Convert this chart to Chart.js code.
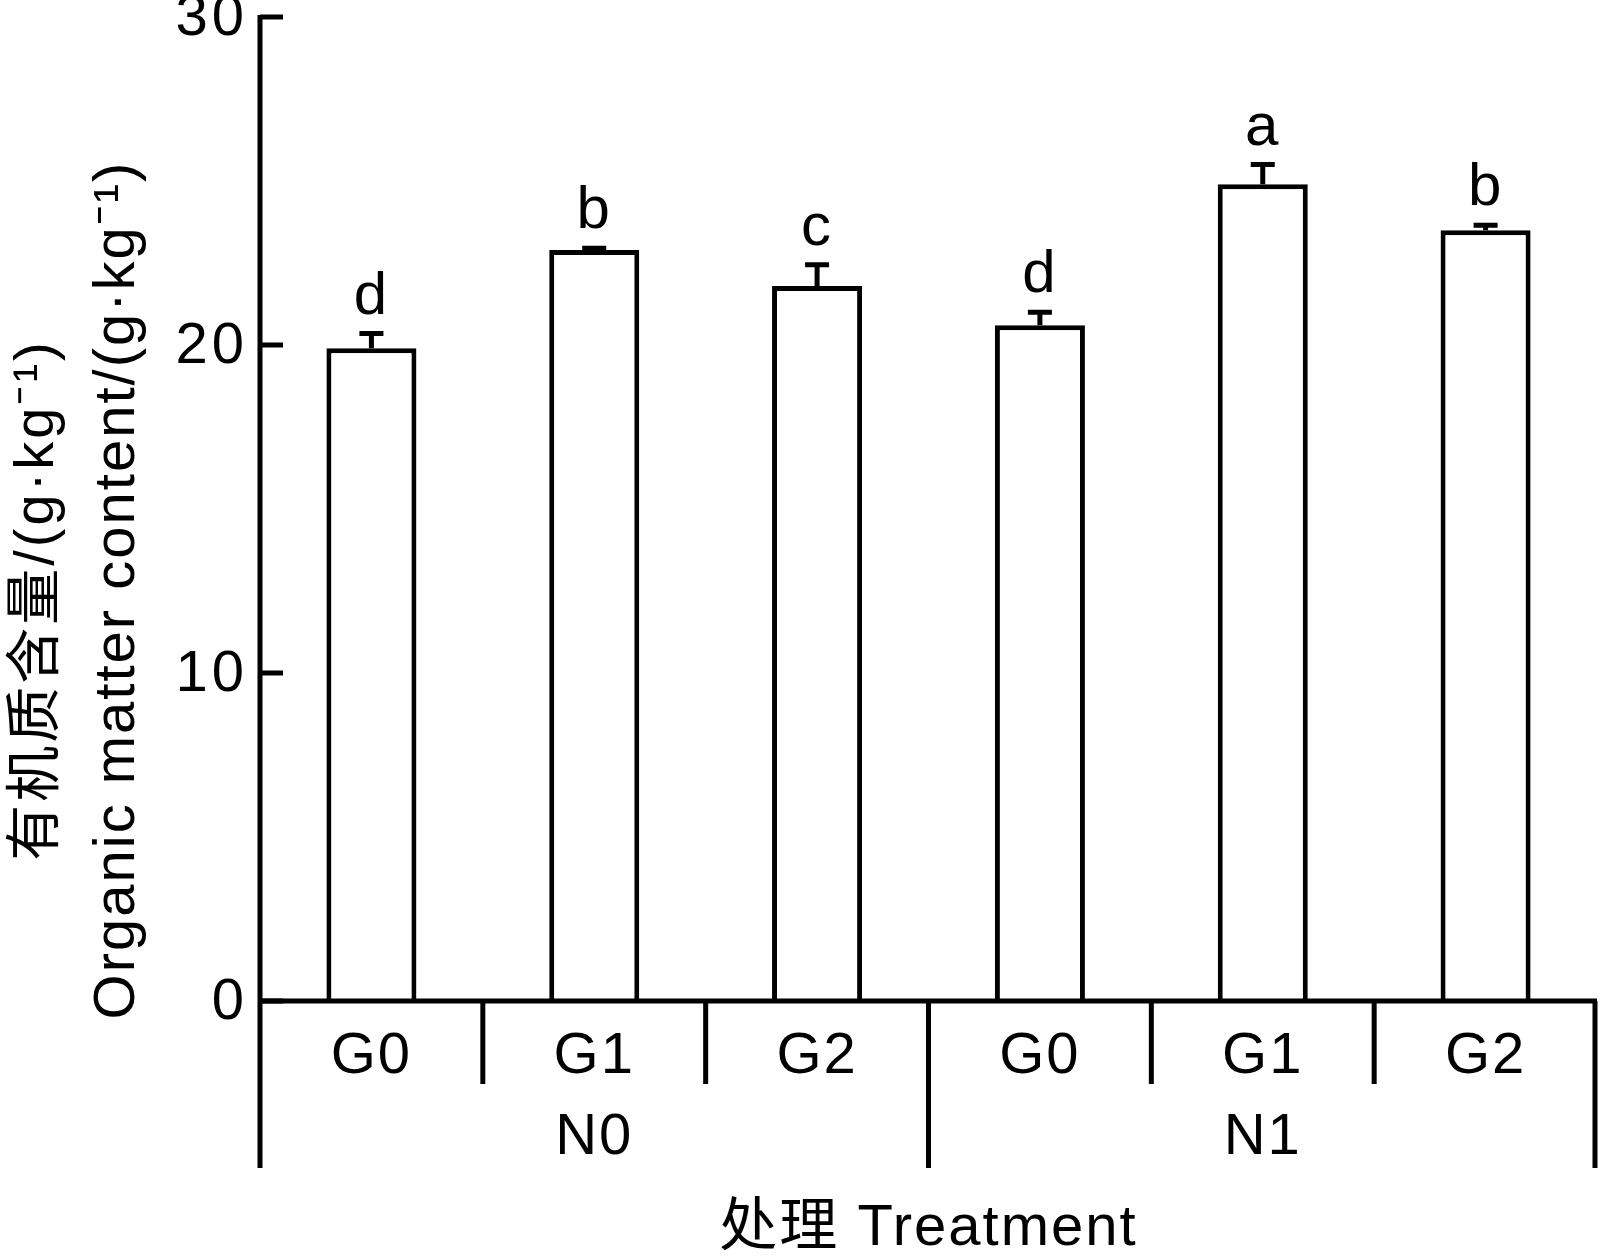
<!DOCTYPE html>
<html>
<head>
<meta charset="utf-8">
<script src="https://cdn.jsdelivr.net/npm/chart.js@4"></script>
<style>
  html, body { margin: 0; padding: 0; background: #fff; }
  #wrap { width: 1600px; height: 1256px; }
</style>
</head>
<body>
<div id="wrap"><canvas id="chart" width="1600" height="1256"></canvas></div>
<script>
// data
const categories = ['G0', 'G1', 'G2', 'G0', 'G1', 'G2'];
const groups = ['N0', 'N1'];
const means = [19.9, 22.9, 21.8, 20.6, 24.9, 23.5];
const errors = [0.45, 0.05, 0.65, 0.4, 0.6, 0.15];
const letters = ['d', 'b', 'c', 'd', 'a', 'b'];
const yTicks = [0, 10, 20, 30];

const FONT = '"Liberation Sans", Arial, sans-serif';
const MIXED = '"Liberation Sans", "Noto Sans CJK SC", sans-serif';

// axes, error bars, letters and the two-level x labels
const decorations = {
  id: 'decorations',
  afterDatasetsDraw(chart) {
    const ctx = chart.ctx;
    const x = chart.scales.x;
    const y = chart.scales.y;
    const area = chart.chartArea;
    const y0 = y.getPixelForValue(0);
    const step = (area.right - area.left) / categories.length;

    ctx.save();
    ctx.strokeStyle = '#000';
    ctx.fillStyle = '#000';
    ctx.lineWidth = 5;
    ctx.lineCap = 'butt';
    ctx.letterSpacing = '2px';

    // error bars + letters
    means.forEach((m, i) => {
      const cx = x.getPixelForValue(i);
      const top = y.getPixelForValue(m);
      const end = y.getPixelForValue(m + errors[i]);
      ctx.beginPath();
      ctx.moveTo(cx, top);
      ctx.lineTo(cx, end);
      ctx.moveTo(cx - 12, end);
      ctx.lineTo(cx + 12, end);
      ctx.stroke();

      ctx.font = '60px ' + FONT;
      ctx.textAlign = 'center';
      ctx.textBaseline = 'alphabetic';
      ctx.fillText(letters[i], cx, end - 20);
    });

    // y axis (runs down through the label block)
    ctx.beginPath();
    ctx.moveTo(area.left, y.getPixelForValue(30) - 2);
    ctx.lineTo(area.left, y0 + 167);
    ctx.stroke();

    // y ticks inward + labels
    ctx.font = '58px ' + FONT;
    ctx.letterSpacing = '4px';
    ctx.textAlign = 'right';
    ctx.textBaseline = 'middle';
    yTicks.forEach(v => {
      const py = y.getPixelForValue(v);
      ctx.beginPath();
      ctx.moveTo(area.left, py);
      ctx.lineTo(area.left + 23, py);
      ctx.stroke();
      ctx.fillText(String(v), area.left - 12, py + 2);
    });
    ctx.letterSpacing = '2px';

    // x axis
    ctx.beginPath();
    ctx.moveTo(area.left, y0);
    ctx.lineTo(area.right, y0);
    ctx.stroke();

    // separators below the axis
    for (let k = 1; k <= categories.length; k++) {
      const px = Math.min(area.left + k * step, area.right - 2);
      const len = (k % 3 === 0) ? 167 : 83;
      ctx.beginPath();
      ctx.moveTo(px, y0);
      ctx.lineTo(px, y0 + len);
      ctx.stroke();
    }

    // category labels
    ctx.font = '58px ' + FONT;
    ctx.textAlign = 'center';
    ctx.textBaseline = 'middle';
    categories.forEach((c, i) => {
      ctx.fillText(c, x.getPixelForValue(i), y0 + 56);
    });
    groups.forEach((g, j) => {
      const cx = area.left + (j * 3 + 1.5) * step;
      ctx.fillText(g, cx, y0 + 137);
    });

    // x title
    ctx.font = '58px ' + MIXED;
    ctx.fillText('处理 Treatment', area.left + 3 * step, y0 + 228);

    // y titles
    const midY = 600;
    ctx.save();
    ctx.translate(38, midY);
    ctx.rotate(-Math.PI / 2);
    ctx.font = '56px ' + MIXED;
    ctx.letterSpacing = '3px';
    ctx.fillText('有机质含量/(g·kg⁻¹)', 0, 0);
    ctx.restore();
    ctx.save();
    ctx.translate(118, midY - 10);
    ctx.rotate(-Math.PI / 2);
    ctx.font = '58px ' + FONT;
    ctx.fillText('Organic matter content/(g·kg⁻¹)', 0, 0);
    ctx.restore();

    ctx.restore();
  }
};

new Chart(document.getElementById('chart').getContext('2d'), {
  type: 'bar',
  data: {
    labels: categories,
    datasets: [{
      data: means,
      backgroundColor: '#fff',
      borderColor: '#000',
      borderWidth: 5,
      borderSkipped: 'bottom',
      barPercentage: 0.404,
      categoryPercentage: 1.0
    }]
  },
  options: {
    responsive: false,
    animation: false,
    layout: {
      padding: { left: 260, right: 3, top: 17, bottom: 255 }
    },
    scales: {
      x: { display: false },
      y: { display: false, min: 0, max: 30 }
    },
    plugins: {
      legend: { display: false },
      tooltip: { enabled: false }
    }
  },
  plugins: [decorations]
});
</script>
</body>
</html>
